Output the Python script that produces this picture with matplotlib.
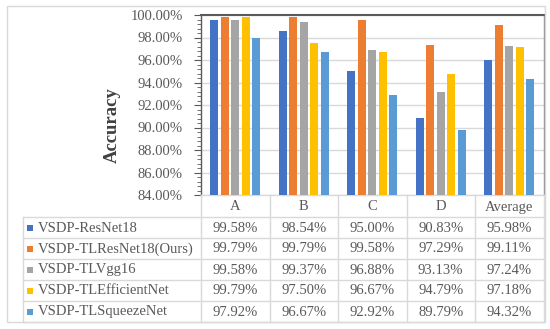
import matplotlib
matplotlib.use("Agg")
import matplotlib.pyplot as plt
from matplotlib.lines import Line2D
from matplotlib.patches import Rectangle
from matplotlib.ticker import MultipleLocator, FuncFormatter

categories = ["A", "B", "C", "D", "Average"]
series_names = ["VSDP-ResNet18", "VSDP-TLResNet18(Ours)", "VSDP-TLVgg16",
                "VSDP-TLEfficientNet", "VSDP-TLSqueezeNet"]
resnet18 = [99.58, 98.54, 95.00, 90.83, 95.98]
tlresnet18 = [99.79, 99.79, 99.58, 97.29, 99.11]
tlvgg16 = [99.58, 99.37, 96.88, 93.13, 97.24]
tlefficientnet = [99.79, 97.50, 96.67, 94.79, 97.18]
tlsqueezenet = [97.92, 96.67, 92.92, 89.79, 94.32]
series_values = [resnet18, tlresnet18, tlvgg16, tlefficientnet, tlsqueezenet]
colors = ["#4472C4", "#ED7D31", "#A5A5A5", "#FFC000", "#5B9BD5"]

W, H = 550, 329
plt.rcParams['font.family'] = ['Liberation Serif', 'DejaVu Serif']
fig = plt.figure(figsize=(W / 100, H / 100), dpi=100)

def fx(x):
    return x / W

def fy(y):
    return 1 - y / H

TXT = "#595959"
GRID = "#D9D9D9"

# plot area in pixel coords
L, R, T, B = 201, 543.5, 15, 195
ax = fig.add_axes([fx(L), fy(B), fx(R) - fx(L), fy(T) - fy(B)])
ymin, ymax = 84, 100
n = len(series_names)
step = 0.1535
bw = 0.117
for i, (vals, c) in enumerate(zip(series_values, colors)):
    xs = [k + (i - (n - 1) / 2) * step for k in range(len(categories))]
    ax.bar(xs, [v - ymin for v in vals], bottom=ymin, width=bw, color=c, zorder=3)
ax.set_xlim(-0.5, len(categories) - 0.5)
ax.set_ylim(ymin, ymax)
ax.yaxis.set_major_locator(MultipleLocator(2))
ax.yaxis.set_minor_locator(MultipleLocator(0.4))
ax.yaxis.set_major_formatter(FuncFormatter(lambda v, p: f"{v:.2f}%"))
ax.tick_params(axis='y', which='major', length=5, width=0.8, color=TXT,
               labelsize=10.5, labelcolor=TXT, pad=8)
ax.tick_params(axis='y', which='minor', length=3, width=0.6, color=TXT)
ax.set_xticks([])
ax.grid(axis='y', color=GRID, linewidth=1, zorder=0)
ax.spines['left'].set_color(TXT)
ax.spines['left'].set_linewidth(1.0)
ax.spines['top'].set_color(TXT)
ax.spines['top'].set_linewidth(1.5)
ax.spines['right'].set_color("#8C8C8C")
ax.spines['right'].set_linewidth(1.0)
ax.spines['bottom'].set_color(GRID)
ax.spines['bottom'].set_linewidth(1.0)

fig.text(fx(112), fy(125), "Accuracy", rotation=90, ha='center', va='center',
         fontsize=13.5, fontweight='bold', color="#404040")

# outer chart border
fig.add_artist(Rectangle((fx(7), fy(322)), fx(544.5) - fx(7), fy(6) - fy(322),
                         fill=False, edgecolor=GRID, linewidth=1.0,
                         transform=fig.transFigure))

# data table
col_edges = [L + (R - L) * k / len(categories) for k in range(len(categories) + 1)]
row_top = 217
row_h = 21
table_bottom = row_top + row_h * n
leg_left = 23

def hline(x0, x1, y):
    fig.add_artist(Line2D([fx(x0), fx(x1)], [fy(y), fy(y)], color=GRID,
                          linewidth=1.0, transform=fig.transFigure))

def vline(x, y0, y1):
    fig.add_artist(Line2D([fx(x), fx(x)], [fy(y0), fy(y1)], color=GRID,
                          linewidth=1.0, transform=fig.transFigure))

for xe in col_edges:
    vline(xe, B, table_bottom)
vline(leg_left, row_top, table_bottom)
for r in range(n + 1):
    hline(leg_left, R, row_top + r * row_h)

for k, cat in enumerate(categories):
    cx = (col_edges[k] + col_edges[k + 1]) / 2
    fig.text(fx(cx), fy((B + row_top) / 2 + 1), cat, ha='center', va='center',
             fontsize=10.5, color=TXT)

for i, (name, vals, c) in enumerate(zip(series_names, series_values, colors)):
    cy = row_top + i * row_h + row_h / 2
    fig.add_artist(Rectangle((fx(27), fy(cy + 3)), fx(33) - fx(27), fy(cy - 3) - fy(cy + 3),
                             facecolor=c, edgecolor='none', transform=fig.transFigure))
    fig.text(fx(38), fy(cy + 0.5), name, ha='left', va='center', fontsize=10.5, color=TXT)
    for k, v in enumerate(vals):
        cx = (col_edges[k] + col_edges[k + 1]) / 2
        fig.text(fx(cx), fy(cy + 0.5), f"{v:.2f}%", ha='center', va='center',
                 fontsize=10.5, color=TXT)

fig.savefig("out.png", dpi=100)
